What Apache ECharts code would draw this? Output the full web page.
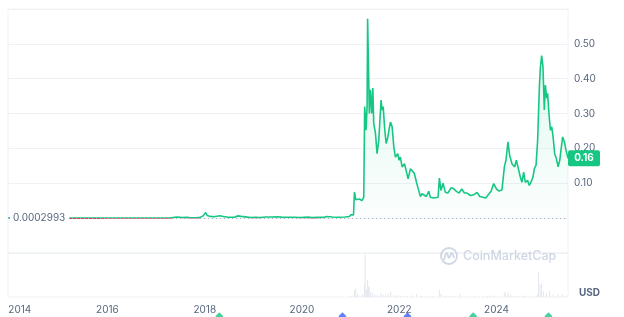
<!DOCTYPE html>
<html><head><meta charset="utf-8">
<script src="https://cdn.jsdelivr.net/npm/echarts@6/dist/echarts.min.js"></script>
<style>html,body{margin:0;padding:0;background:#fff}#c{width:624px;height:317px}</style>
</head><body><div id="c"></div>
<script>
const priceDates = [
'2013-12-15','2013-12-25','2014-01-05','2014-01-20','2014-02-10','2014-03-01','2014-04-01','2014-05-01','2014-06-01','2014-07-15',
'2014-09-01','2014-10-15','2014-12-01','2015-01-15','2015-03-01','2015-05-01','2015-07-01','2015-09-01','2015-11-01','2016-01-01',
'2016-03-01','2016-05-01','2016-07-01','2016-09-01','2016-11-01','2017-01-01','2017-03-01','2017-04-15','2017-05-20','2017-06-10',
'2017-07-15','2017-08-20','2017-09-15','2017-10-20','2017-11-20','2017-12-20','2018-01-07','2018-01-20','2018-02-10','2018-03-10',
'2018-04-25','2018-05-20','2018-06-25','2018-08-10','2018-09-08','2018-10-01','2018-11-20','2018-12-15','2019-01-15','2019-02-20',
'2019-04-05','2019-05-20','2019-07-01','2019-08-01','2019-09-20','2019-11-01','2019-12-20','2020-02-15','2020-03-15','2020-05-01',
'2020-06-15','2020-07-08','2020-08-15','2020-10-01','2020-11-20','2020-12-20','2021-01-05','2021-01-22','2021-01-29','2021-02-08',
'2021-02-19','2021-03-08','2021-03-27','2021-04-09','2021-04-16','2021-04-26','2021-05-04','2021-05-08','2021-05-21','2021-05-29',
'2021-06-08','2021-06-16','2021-06-23','2021-07-06','2021-07-18','2021-07-31','2021-08-17','2021-08-25','2021-09-02','2021-09-12',
'2021-09-24','2021-10-07','2021-10-17','2021-10-27','2021-11-08','2021-11-21','2021-12-03','2021-12-20','2021-12-30','2022-01-09',
'2022-01-22','2022-02-09','2022-02-21','2022-03-08','2022-03-26','2022-04-07','2022-04-24','2022-05-10','2022-05-27','2022-06-09',
'2022-06-21','2022-07-03','2022-07-23','2022-08-10','2022-08-22','2022-09-16','2022-10-19','2022-10-29','2022-11-10','2022-11-25',
'2022-12-13','2022-12-31','2023-01-25','2023-02-14','2023-03-06','2023-03-26','2023-04-15','2023-05-05','2023-05-25','2023-06-19',
'2023-07-14','2023-08-08','2023-08-28','2023-09-22','2023-10-12','2023-11-04','2023-11-21','2023-12-11','2023-12-31','2024-01-17',
'2024-02-11','2024-02-29','2024-03-12','2024-03-27','2024-04-09','2024-04-26','2024-05-09','2024-05-16','2024-05-29','2024-06-10',
'2024-06-28','2024-07-10','2024-07-23','2024-08-04','2024-08-22','2024-09-03','2024-09-16','2024-10-01','2024-10-11','2024-10-24',
'2024-11-05','2024-11-18','2024-11-25','2024-12-05','2024-12-15','2024-12-25','2025-01-02','2025-01-12','2025-01-19','2025-01-29',
'2025-02-09','2025-02-19','2025-03-01','2025-03-13','2025-03-26','2025-04-08','2025-04-20','2025-05-02','2025-05-12','2025-05-25',
'2025-06-06','2025-06-21'
];
const priceValues = [
0.000299,0.00056,0.0012,0.0017,0.0013,0.00078,0.00065,0.00045,0.00045,0.00022,
0.00021,0.00020,0.00020,0.00017,0.00013,0.00012,0.00015,0.00013,0.00012,0.00022,
0.00024,0.00025,0.00026,0.00022,0.00022,0.00022,0.00027,0.00055,0.0025,0.0032,
0.0018,0.0027,0.0012,0.0010,0.0014,0.0065,0.016,0.0075,0.0050,0.0040,
0.0068,0.0045,0.0027,0.0025,0.0065,0.0050,0.0028,0.0020,0.0024,0.0020,
0.0033,0.0033,0.0040,0.0030,0.0024,0.0027,0.0020,0.0029,0.0015,0.0022,
0.0025,0.0045,0.0033,0.0026,0.0033,0.0045,0.0098,0.0095,0.075,0.053,
0.050,0.055,0.050,0.060,0.320,0.252,0.320,0.572,0.300,0.368,
0.300,0.373,0.272,0.243,0.185,0.224,0.339,0.310,0.320,0.262,
0.214,0.233,0.257,0.276,0.262,0.204,0.175,0.185,0.166,0.175,
0.147,0.156,0.137,0.113,0.142,0.147,0.128,0.103,0.079,0.062,
0.070,0.065,0.062,0.077,0.060,0.058,0.060,0.115,0.079,0.100,
0.074,0.072,0.087,0.084,0.077,0.072,0.084,0.072,0.072,0.065,
0.067,0.074,0.062,0.060,0.058,0.069,0.077,0.099,0.084,0.078,
0.081,0.147,0.166,0.219,0.180,0.156,0.161,0.147,0.166,0.147,
0.118,0.103,0.132,0.103,0.108,0.094,0.103,0.118,0.142,0.152,
0.224,0.377,0.430,0.466,0.435,0.310,0.382,0.344,0.358,0.300,
0.252,0.262,0.233,0.185,0.171,0.147,0.166,0.204,0.233,0.219,
0.195,0.172
];
const volDates = [
'2020-12-20','2021-01-05','2021-01-29','2021-02-08','2021-02-20','2021-03-10','2021-04-01','2021-04-16','2021-04-20','2021-04-28',
'2021-05-08','2021-05-13','2021-05-20','2021-06-01','2021-06-15','2021-07-01','2021-07-20','2021-08-15','2021-09-01','2021-09-20',
'2021-10-10','2021-10-28','2021-11-20','2021-12-10','2022-01-10','2022-02-01','2022-03-01','2022-04-05','2022-05-10','2022-06-15',
'2022-07-15','2022-08-15','2022-09-15','2022-10-29','2022-11-10','2022-12-10','2023-01-15','2023-02-10','2023-03-15','2023-04-04',
'2023-05-15','2023-06-15','2023-07-20','2023-08-20','2023-09-20','2023-10-25','2023-11-15','2023-12-10','2024-01-15','2024-02-28',
'2024-03-05','2024-03-28','2024-04-15','2024-05-20','2024-06-15','2024-07-15','2024-08-05','2024-09-10','2024-10-15','2024-11-05',
'2024-11-12','2024-11-23','2024-12-05','2024-12-20','2025-01-10','2025-02-03','2025-03-01','2025-04-07','2025-05-10','2025-06-10'
];
const volValues = [
0.3,1.5,11,14,5,3,4,22,69,12,
28,18,16,8,6,4,3,7,4,3,
5,9,3,3,2,2,1.5,3,5,2,
1,2,1,12,5,2,1.5,2,1,5,
1,1,2,1,0.8,2,2,3,1,5,
8,7,4,2,2,1.5,3,1,2,5,
41,20,22,10,6,10,4,5,4,2
];
const yearTicks = ['2014-01-01','2016-01-01','2018-01-01','2020-01-01','2022-01-01','2024-01-01'];
const yTickLabels = ['0.10','0.20','0.30','0.40','0.50'];
const baseline = 0.0002993;
const baselineLabel = '0.0002993';
const lastPriceLabel = '0.16';
const eventDates = ['2018-04-20','2020-10-31','2022-03-03','2023-07-10','2025-01-25'];
const eventColors = ['#16c784','#3861fb','#3861fb','#16c784','#16c784'];

const FONT = 'Inter, "Noto Sans", sans-serif';
const FS = 10;
const TXT = '#58667e';
const GRID = '#eff2f5';
const T = d => Date.parse(d + 'T00:00:00Z');
const xMin = T('2013-12-15'), xMax = T('2025-06-21');

const chart = echarts.init(document.getElementById('c'), null, {renderer: 'canvas'});
const priceData = priceDates.map((d, i) => [T(d), priceValues[i]]);
const volData = volDates.map((d, i) => [T(d), volValues[i]]);
const evData = eventDates.map((d, i) => ({value: [T(d), 0.5], itemStyle: {color: eventColors[i]}}));

chart.setOption({
  animation: false,
  backgroundColor: '#fff',
  grid: [
    {left: 8, right: 56, top: 9, height: 244, show: true, borderColor: GRID, borderWidth: 1, backgroundColor: 'transparent'},
    {left: 8, right: 56, top: 253, height: 44, show: true, borderColor: GRID, borderWidth: 1, backgroundColor: 'transparent'},
    {left: 8, right: 56, top: 315, height: 10}
  ],
  xAxis: [
    {type: 'value', gridIndex: 0, min: xMin, max: xMax, show: false, splitLine: {show: false}},
    {type: 'value', gridIndex: 1, min: xMin, max: xMax,
      axisLine: {show: false}, axisTick: {show: false}, splitLine: {show: false},
      axisLabel: {
        customValues: yearTicks.map(T),
        color: TXT, fontSize: FS, fontFamily: FONT, margin: 8,
        formatter: function (v) {
          const y = new Date(v).getUTCFullYear();
          return y === 2014 ? '{a|' + y + '}' : '' + y;
        },
        rich: {a: {color: TXT, fontSize: FS, fontFamily: FONT, padding: [0, 0, 0, 19]}}
      }
    },
    {type: 'value', gridIndex: 2, min: xMin, max: xMax, show: false, splitLine: {show: false}}
  ],
  yAxis: [
    {type: 'value', gridIndex: 0, position: 'right', min: -0.1, max: 0.6, interval: 0.1,
      axisLine: {show: false}, axisTick: {show: false},
      splitLine: {lineStyle: {color: GRID, width: 1}},
      axisLabel: {color: TXT, fontSize: FS, fontFamily: FONT, margin: 6,
        formatter: function (v) { const s = v.toFixed(2); return yTickLabels.indexOf(s) >= 0 ? s : ''; }}
    },
    {type: 'value', gridIndex: 1, min: 0, max: 72, show: false, splitLine: {show: false}},
    {type: 'value', gridIndex: 2, min: 0, max: 1, show: false, splitLine: {show: false}}
  ],
  visualMap: {
    show: false, type: 'piecewise', seriesIndex: 0, dimension: 1,
    pieces: [{gte: -0.1, lt: baseline, color: '#ea3943'}, {gte: baseline, lte: 0.6, color: '#16c784'}],
    outOfRange: {color: '#16c784'}
  },
  series: [
    {type: 'line', xAxisIndex: 0, yAxisIndex: 0, data: priceData, showSymbol: false,
      lineStyle: {width: 1.6},
      areaStyle: {color: new echarts.graphic.LinearGradient(0, 0, 0, 1, [
        {offset: 0, color: 'rgba(22,199,132,0.22)'},
        {offset: 1, color: 'rgba(22,199,132,0.02)'}
      ])},
      markLine: {silent: true, symbol: 'none', label: {show: false},
        lineStyle: {type: [1, 3], color: '#a6b0c3', width: 1},
        data: [{yAxis: baseline}]},
      z: 3
    },
    {type: 'bar', xAxisIndex: 1, yAxisIndex: 1, data: volData, barWidth: 1,
      itemStyle: {color: '#e3e7ee'}, silent: true},
    {type: 'scatter', xAxisIndex: 2, yAxisIndex: 2, data: evData, symbol: 'diamond', symbolSize: 8,
      clip: false, silent: true}
  ]
});

const basePx = chart.convertToPixel({gridIndex: 0}, [xMin, baseline]);
const last = priceData[priceData.length - 1];
const lastPx = chart.convertToPixel({gridIndex: 0}, last);
const rightEdge = chart.convertToPixel({gridIndex: 0}, [xMax, 0])[0];

chart.setOption({
  graphic: [
    {type: 'text', x: 10, y: basePx[1], z: 10,
      style: {text: baselineLabel, fill: TXT, font: FS + 'px ' + FONT, verticalAlign: 'middle',
        backgroundColor: '#fff', padding: [1, 4, 1, 3]}},
    {type: 'rect', shape: {x: rightEdge, y: lastPx[1] - 8, width: 32, height: 16, r: 2}, z: 10,
      style: {fill: '#16c784'}},
    {type: 'text', x: rightEdge + 16, y: lastPx[1], z: 11,
      style: {text: lastPriceLabel, fill: '#fff', font: 'bold ' + FS + 'px ' + FONT, align: 'center', verticalAlign: 'middle'}},
    {type: 'text', x: 579, y: 293, z: 10,
      style: {text: 'USD', fill: TXT, font: 'bold ' + FS + 'px ' + FONT, verticalAlign: 'middle'}},
    {type: 'group', x: 440, y: 247, z: 1, children: [
      {type: 'circle', shape: {cx: 9, cy: 9, r: 8}, style: {fill: 'none', stroke: '#cfd6e4', lineWidth: 1.8}},
      {type: 'polyline', shape: {points: [[4, 13], [6.5, 6], [9, 11], [11.5, 6], [14, 11]], smooth: 0.4},
        style: {fill: 'none', stroke: '#cfd6e4', lineWidth: 1.8}},
      {type: 'text', x: 23, y: 9, style: {text: 'CoinMarketCap', fill: '#cfd6e4',
        font: '500 12.5px ' + FONT, verticalAlign: 'middle'}}
    ]}
  ]
});
</script>
</body></html>
